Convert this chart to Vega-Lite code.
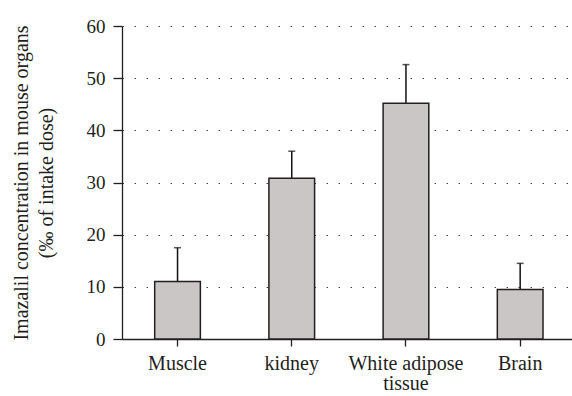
{
  "$schema": "https://vega.github.io/schema/vega-lite/v6.json",
  "width": 450,
  "height": 313,
  "autosize": "none",
  "padding": {"left": 122, "top": 26, "right": 0, "bottom": 57},
  "background": "white",
  "config": {
    "view": {"stroke": null},
    "font": "Liberation Serif",
    "axis": {"labelFont": "Liberation Serif", "titleFont": "Liberation Serif", "labelColor": "#231f20", "titleColor": "#231f20", "domainColor": "#231f20", "tickColor": "#231f20", "labelFontSize": 19, "titleFontSize": 20, "titleFontWeight": "normal", "domainWidth": 1.3, "tickWidth": 1.3}
  },
  "data": {
    "values": [
      {"organ": "Muscle", "value": 11.0, "upper": 17.5},
      {"organ": "kidney", "value": 30.8, "upper": 36.0},
      {"organ": "White adipose tissue", "value": 45.2, "upper": 52.6},
      {"organ": "Brain", "value": 9.5, "upper": 14.5}
    ]
  },
  "encoding": {
    "x": {
      "field": "organ", "type": "nominal", "sort": null,
      "scale": {"paddingInner": 0.6, "paddingOuter": 0.27, "align": 0.53},
      "axis": {"title": null, "labelAngle": 0, "tickSize": 7, "labelPadding": 7, "labelFontSize": 20, "labelLineHeight": 20,
        "labelExpr": "datum.label == 'White adipose tissue' ? ['White adipose', 'tissue'] : datum.label"}
    }
  },
  "layer": [
    {
      "mark": {"type": "rule", "stroke": "#111", "strokeWidth": 1.5},
      "encoding": {
        "y": {"field": "value", "type": "quantitative"},
        "y2": {"field": "upper"}
      }
    },
    {
      "mark": {"type": "tick", "color": "#111", "size": 7, "thickness": 1.5},
      "encoding": {
        "y": {"field": "upper", "type": "quantitative"}
      }
    },
    {
      "mark": {"type": "bar", "fill": "#c9c6c5", "stroke": "#231f20", "strokeWidth": 1.5},
      "encoding": {
        "y": {
          "field": "value", "type": "quantitative",
          "scale": {"domain": [0, 60], "nice": false},
          "axis": {
            "values": [0, 10, 20, 30, 40, 50, 60],
            "title": ["Imazalil concentration in mouse organs", "(‰ of intake dose)"],
            "titleLineHeight": 25,
            "titlePadding": 30,
            "tickSize": 9,
            "labelPadding": 8,
            "grid": true,
            "gridColor": "#444",
            "gridDash": [1.5, 10.5],
            "gridWidth": 1.2
          }
        }
      }
    }
  ]
}
